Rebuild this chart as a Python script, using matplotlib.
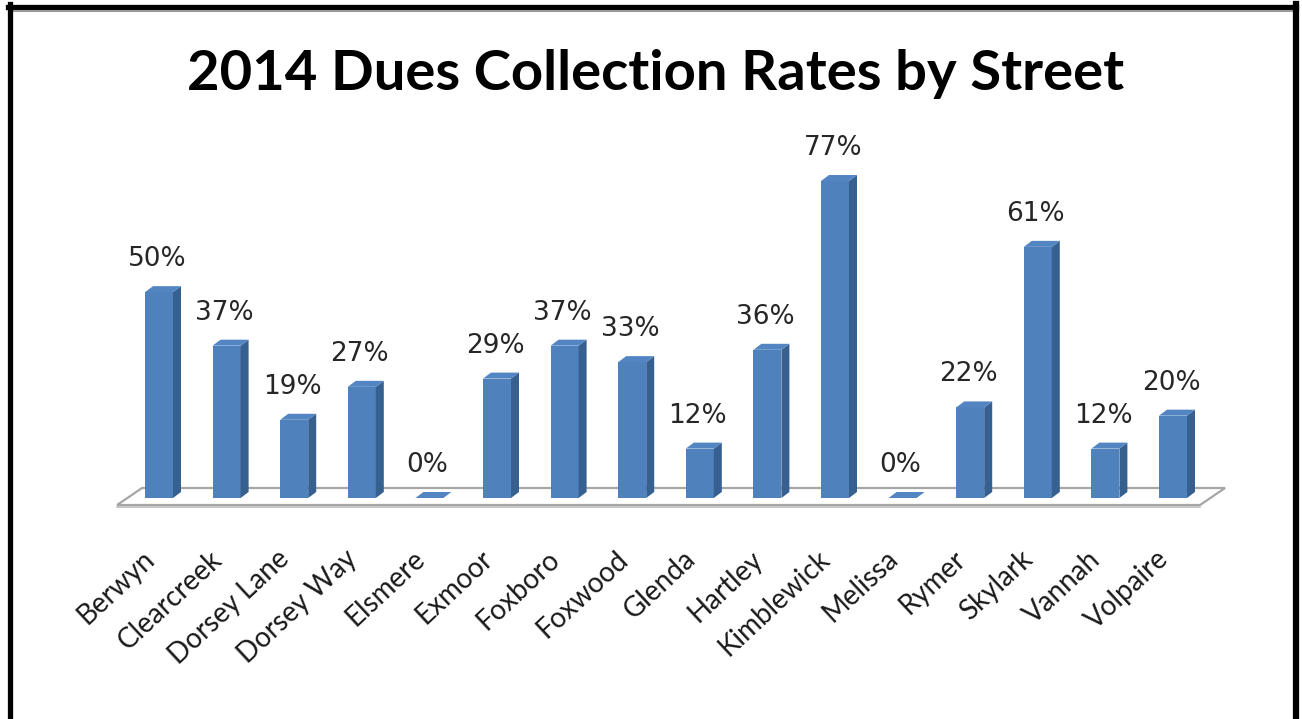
import matplotlib
matplotlib.use("Agg")
import matplotlib.pyplot as plt
from matplotlib.patches import Polygon
from matplotlib.lines import Line2D

# ---- data ----
streets = ["Berwyn", "Clearcreek", "Dorsey Lane", "Dorsey Way", "Elsmere", "Exmoor",
           "Foxboro", "Foxwood", "Glenda", "Hartley", "Kimblewick", "Melissa",
           "Rymer", "Skylark", "Vannah", "Volpaire"]
rates = [50, 37, 19, 27, 0, 29, 37, 33, 12, 36, 77, 0, 22, 61, 12, 20]
title = "2014 Dues Collection Rates by Street"

W, H = 1302, 719
fig = plt.figure(figsize=(W / 100, H / 100), dpi=100)
fig.patch.set_facecolor("white")

# axes spanning whole figure; scale chosen so bars land where the reference has them
px_per_cat = 67.6
px_per_pct = 4.117
x0_px, y0_px = 159, 498
ax = fig.add_axes([0, 0, 1, 1])
ax.set_xlim(-x0_px / px_per_cat, (W - x0_px) / px_per_cat)
ax.set_ylim(-(H - y0_px) / px_per_pct, y0_px / px_per_pct)
ax.axis("off")

front = "#4F81BD"
side = "#36608F"
topc = "#5285C2"
bw = 28 / px_per_cat
dx = 8 / px_per_cat
dy = 6 / px_per_pct

n = len(streets)
xs = list(range(n))

# floor
fdx = 25 / px_per_cat
fdy = 17 / px_per_pct
fl = -0.62
fr = n - 1 + 0.40
fyf = -7 / px_per_pct
floor = Polygon([(fl, fyf), (fl + fdx, fyf + fdy), (fr + fdx, fyf + fdy), (fr, fyf)],
                closed=True, facecolor="white", edgecolor="#A6A6A6", lw=1.6, zorder=1)
ax.add_patch(floor)
ax.plot([fl, fr], [fyf - 0.45, fyf - 0.45], color="#BFBFBF", lw=1.2, zorder=1)

bars = ax.bar(xs, rates, width=bw, color=front, edgecolor="none", zorder=3)
for b, v in zip(bars, rates):
    l = b.get_x()
    r = l + b.get_width()
    h = b.get_height()
    ax.add_patch(Polygon([(r, 0), (r + dx, dy), (r + dx, h + dy), (r, h)], closed=True,
                         facecolor=side, edgecolor="none", zorder=3))
    ax.add_patch(Polygon([(l, h), (l + dx, h + dy), (r + dx, h + dy), (r, h)], closed=True,
                         facecolor=topc, edgecolor="none", zorder=3))
    cx = l + b.get_width() / 2 - 2 / px_per_cat
    ax.text(cx, h + 33 / px_per_pct, f"{v}%", ha="center", va="center",
            fontsize=19, family="DejaVu Sans", color="#262626", zorder=5)

for x, name in zip(xs, streets):
    ax.text(x - 3 / px_per_cat, -63 / px_per_pct, name, rotation=43, ha="right",
            va="baseline", rotation_mode="anchor", fontsize=20, family="Lato",
            color="#1a1a1a")

fig.text(656 / W, 1 - 90 / H, title, ha="center", va="baseline", fontsize=40.5,
         family="Lato", weight="bold", color="black")

# frame lines
t = fig.transFigure
fig.add_artist(Line2D([8 / W, 1296 / W], [1 - 6.5 / H, 1 - 6.5 / H], transform=t, color="black", lw=3.8))
fig.add_artist(Line2D([12 / W, 1293 / W], [1 - 10.5 / H, 1 - 10.5 / H], transform=t, color="#9a9a9a", lw=1.5))
fig.add_artist(Line2D([9.5 / W, 9.5 / W], [0, 1 - 4 / H], transform=t, color="black", lw=3.8))
fig.add_artist(Line2D([1295.5 / W, 1295.5 / W], [0, 1 - 4 / H], transform=t, color="black", lw=4.5))

fig.savefig("out.png", dpi=100, facecolor="white")
